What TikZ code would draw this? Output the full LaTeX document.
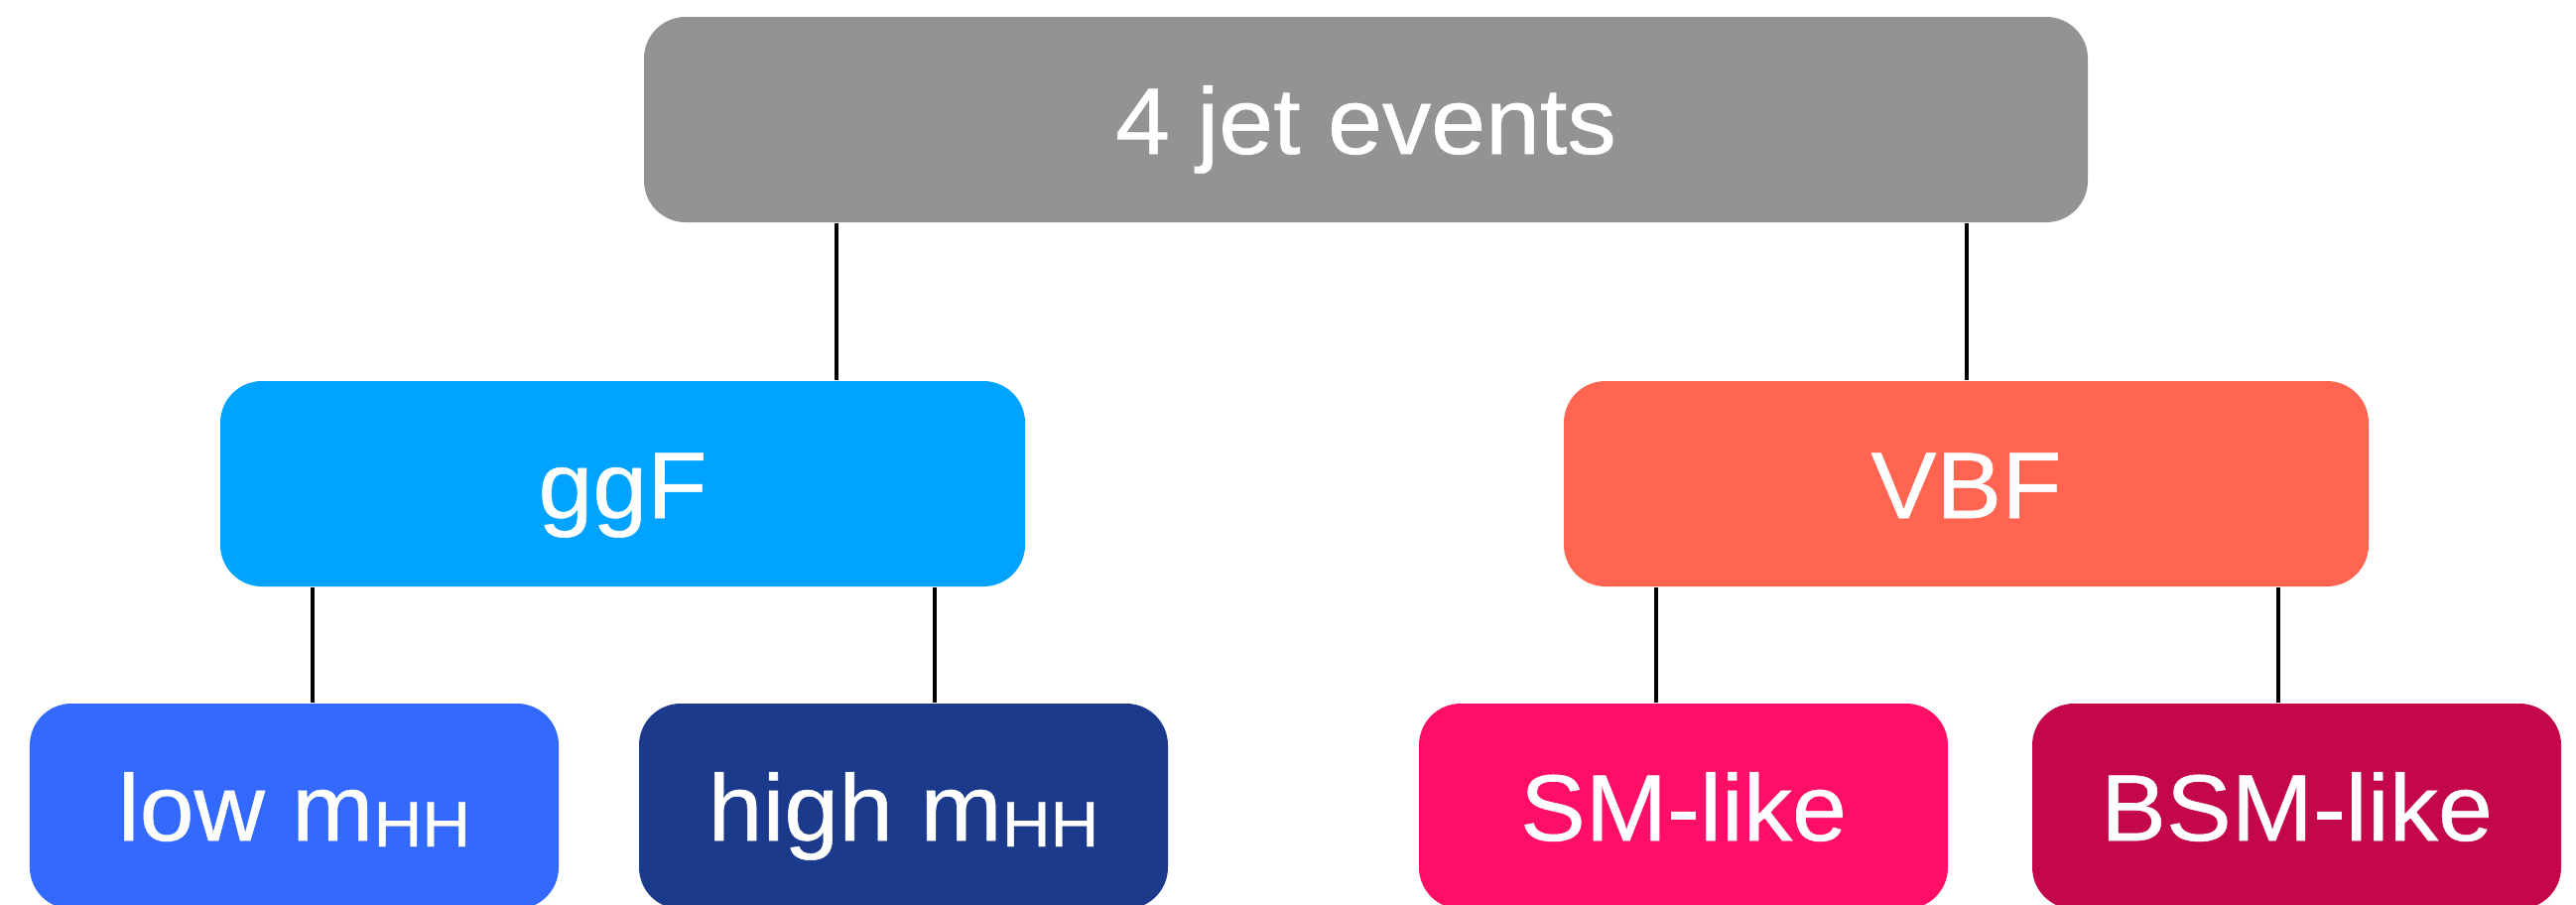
\documentclass[tikz,border=0pt]{standalone}
\usepackage{fontspec}
\setmainfont{Liberation Sans}[FakeBold=0.6,FakeStretch=1.04]
\definecolor{cgray}{HTML}{939393}
\definecolor{cggf}{HTML}{00A3FF}
\definecolor{cvbf}{HTML}{FF6550}
\definecolor{clow}{HTML}{3369FF}
\definecolor{chigh}{HTML}{1C3A8C}
\definecolor{csm}{HTML}{FF0E67}
\definecolor{cbsm}{HTML}{C4074A}
\newcommand{\mHH}{m\raisebox{-0.06cm}{\fontsize{18.5pt}{19pt}\selectfont HH}}
\tikzset{
  box/.style={rectangle, rounded corners=0.42cm, minimum height=2.07cm, inner sep=0pt,
    text height=0.69cm, text depth=0cm,
    text=white, font=\fontsize{27pt}{32pt}\selectfont},
  link/.style={draw=black, line width=0.04cm}
}
\begin{document}
\begin{tikzpicture}
\useasboundingbox (0,0) rectangle (25.96,9.11);
\clip (0,0) rectangle (25.96,9.11);
\node[box, fill=cgray, minimum width=14.55cm] (top) at (13.765,7.905) {4 jet events};
\node[box, fill=cggf, minimum width=8.11cm] (ggF) at (6.275,4.235) {ggF};
\node[box, fill=cvbf, minimum width=8.11cm] (VBF) at (19.815,4.235) {VBF};
\node[box, fill=clow, minimum width=5.33cm] (low) at (2.965,0.985) {low \mHH};
\node[box, fill=chigh, minimum width=5.33cm] (high) at (9.105,0.985) {high \mHH};
\node[box, fill=csm, minimum width=5.33cm] (SM) at (16.965,0.985) {SM-like};
\node[box, fill=cbsm, minimum width=5.33cm] (BSM) at (23.145,0.985) {BSM-like};
\coordinate (x1) at (8.43,0);
\coordinate (x2) at (19.82,0);
\coordinate (x3) at (3.15,0);
\coordinate (x4) at (9.42,0);
\coordinate (x5) at (16.69,0);
\coordinate (x6) at (22.96,0);
\draw[link] (top.south -| x1) -- (ggF.north -| x1);
\draw[link] (top.south -| x2) -- (VBF.north -| x2);
\draw[link] (ggF.south -| x3) -- (low.north -| x3);
\draw[link] (ggF.south -| x4) -- (high.north -| x4);
\draw[link] (VBF.south -| x5) -- (SM.north -| x5);
\draw[link] (VBF.south -| x6) -- (BSM.north -| x6);
\end{tikzpicture}
\end{document}
